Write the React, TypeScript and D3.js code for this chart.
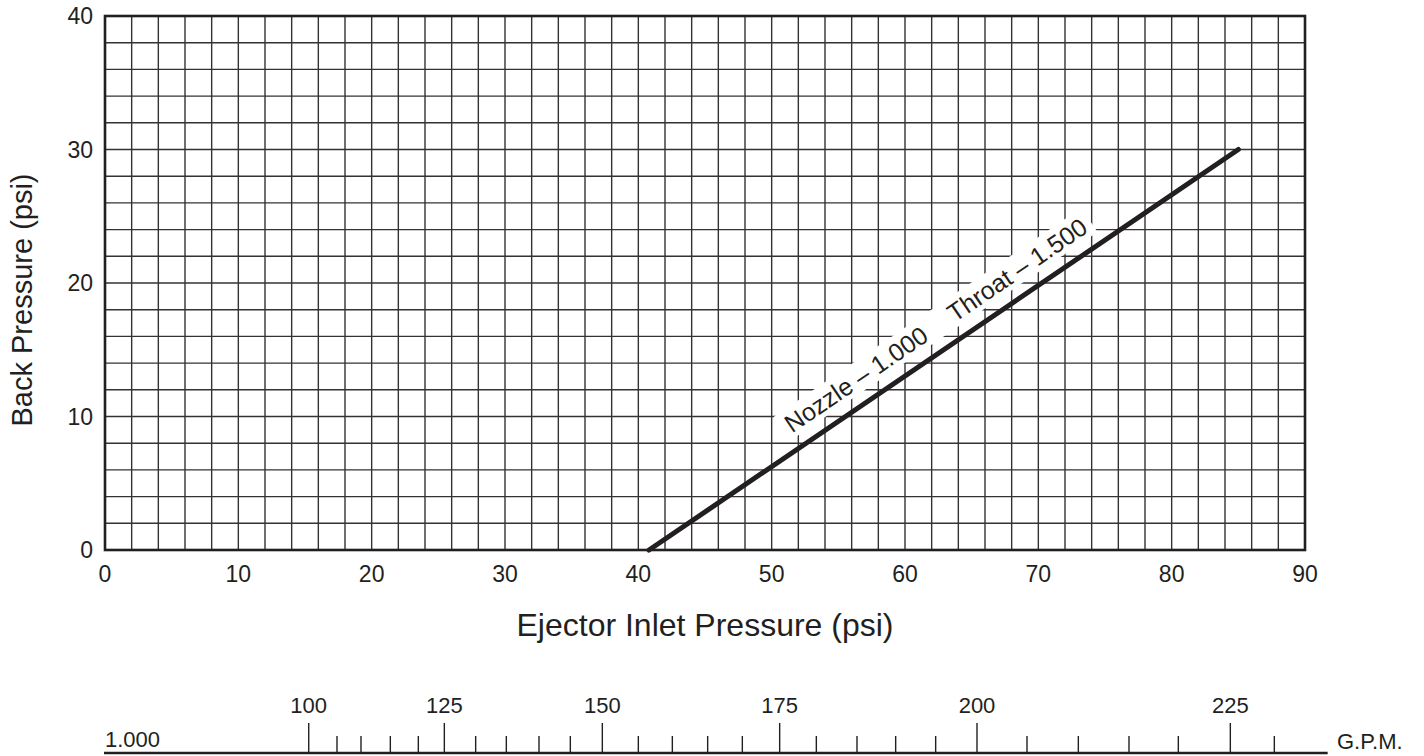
import React from "react";
import * as d3 from "d3";

// ---- data ----
const xTicks = [0, 10, 20, 30, 40, 50, 60, 70, 80, 90];
const yTicks = [0, 10, 20, 30, 40];
const gridStep = 2;

const lineInlet = [40.8, 85.0];
const lineBack = [0, 30];
const labelPart1 = "Nozzle \u2013 1.000";
const labelPart2 = "Throat \u2013 1.500";
const labelStartInlet = 52.2;

const gpmValues = [100, 105, 110, 115, 120, 125, 130, 135, 140, 145, 150, 155, 160, 165, 170, 175, 180, 185, 190, 195, 200, 205, 210, 215, 220, 225, 230];
const gpmInletPsi = [15.28, 17.4, 19.2, 21.4, 23.5, 25.45, 27.8, 30.1, 32.55, 34.9, 37.3, 40.0, 42.55, 45.2, 47.8, 50.6, 53.35, 56.4, 59.3, 62.3, 65.4, 69.15, 73.0, 76.8, 80.5, 84.4, 87.7];
const gpmScaleEnd = 91.7;
const gpmSizeLabel = "1.000";
const gpmUnit = "G.P.M.";

const xTitle = "Ejector Inlet Pressure (psi)";
const yTitle = "Back Pressure (psi)";

// ---- layout ----
const W = 1424;
const H = 756;
const M = { left: 105, right: 1305, top: 16, bottom: 550 };
const INK = "#231f20";
const FONT = "'Liberation Sans', Arial, Helvetica, sans-serif";

export default function App() {
  const x = d3.scaleLinear().domain([0, 90]).range([M.left, M.right]);
  const y = d3.scaleLinear().domain([0, 40]).range([M.bottom, M.top]);

  const gridX = d3.range(0, 90 + 0.001, gridStep);
  const gridY = d3.range(0, 40 + 0.001, gridStep);

  const linePts: [number, number][] = lineInlet.map((v, i) => [v, lineBack[i]]);
  const lineGen = d3
    .line<[number, number]>()
    .x((d) => x(d[0]))
    .y((d) => y(d[1]));

  // label geometry
  const slope = (lineBack[1] - lineBack[0]) / (lineInlet[1] - lineInlet[0]);
  const lbBack = lineBack[0] + (labelStartInlet - lineInlet[0]) * slope;
  const lx = x(labelStartInlet);
  const ly = y(lbBack);
  const angle =
    (Math.atan2(y(lineBack[1]) - y(lineBack[0]), x(lineInlet[1]) - x(lineInlet[0])) * 180) / Math.PI;
  const labelFont = 25;
  const baseOff = 16;

  const gpmY = 753;

  return (
    <svg
      width={W}
      height={H}
      style={{ position: "absolute", left: 0, top: 0, background: "#fff" }}
      fontFamily={FONT}
    >
      <rect x={0} y={0} width={W} height={H} fill="#fff" />
      {/* grid */}
      <g stroke="#333" strokeWidth={1.4}>
        {gridX.map((v) => (
          <line key={"gx" + v} x1={x(v)} x2={x(v)} y1={y(0)} y2={y(40)} />
        ))}
        {gridY.map((v) => (
          <line key={"gy" + v} x1={x(0)} x2={x(90)} y1={y(v)} y2={y(v)} />
        ))}
      </g>
      {/* frame */}
      <rect
        x={M.left}
        y={M.top}
        width={M.right - M.left}
        height={M.bottom - M.top}
        fill="none"
        stroke={INK}
        strokeWidth={2.6}
      />
      {/* label with white band */}
      <g transform={`translate(${lx},${ly}) rotate(${angle})`}>
        <rect x={-6} y={-baseOff - 24} width={372} height={29} fill="#fff" />
        <text x={0} y={-baseOff} fontSize={labelFont} fill={INK}>
          <tspan>{labelPart1}</tspan>
          <tspan dx={30}>{labelPart2}</tspan>
        </text>
      </g>
      {/* data line */}
      <path d={lineGen(linePts) || ""} fill="none" stroke={INK} strokeWidth={5} strokeLinecap="round" />
      {/* y tick labels */}
      <g fontSize={23} fill={INK} textAnchor="end">
        {yTicks.map((v) => (
          <text key={"yt" + v} x={M.left - 12} y={y(v) + 8}>
            {v}
          </text>
        ))}
      </g>
      {/* x tick labels */}
      <g fontSize={23} fill={INK} textAnchor="middle">
        {xTicks.map((v) => (
          <text key={"xt" + v} x={x(v)} y={M.bottom + 32}>
            {v}
          </text>
        ))}
      </g>
      {/* axis titles */}
      <text x={(M.left + M.right) / 2} y={636} fontSize={32} fill={INK} textAnchor="middle">
        {xTitle}
      </text>
      <text
        transform={`translate(32,${300}) rotate(-90)`}
        fontSize={29}
        fill={INK}
        textAnchor="middle"
      >
        {yTitle}
      </text>
      {/* GPM scale */}
      <line x1={x(0) - 1} x2={x(gpmScaleEnd)} y1={gpmY} y2={gpmY} stroke={INK} strokeWidth={2.6} />
      <g stroke={INK} strokeWidth={1.4}>
        {gpmValues.map((g, i) => {
          const major = g % 25 === 0;
          return (
            <line
              key={"gt" + g}
              x1={x(gpmInletPsi[i])}
              x2={x(gpmInletPsi[i])}
              y1={major ? 723 : 736}
              y2={gpmY}
            />
          );
        })}
      </g>
      <g fontSize={22} fill={INK} textAnchor="middle">
        {gpmValues.map((g, i) =>
          g % 25 === 0 ? (
            <text key={"gl" + g} x={x(gpmInletPsi[i])} y={713}>
              {g}
            </text>
          ) : null
        )}
      </g>
      <text x={x(0)} y={747} fontSize={22} fill={INK}>
        {gpmSizeLabel}
      </text>
      <text x={1337} y={749} fontSize={22} fill={INK}>
        {gpmUnit}
      </text>
    </svg>
  );
}
